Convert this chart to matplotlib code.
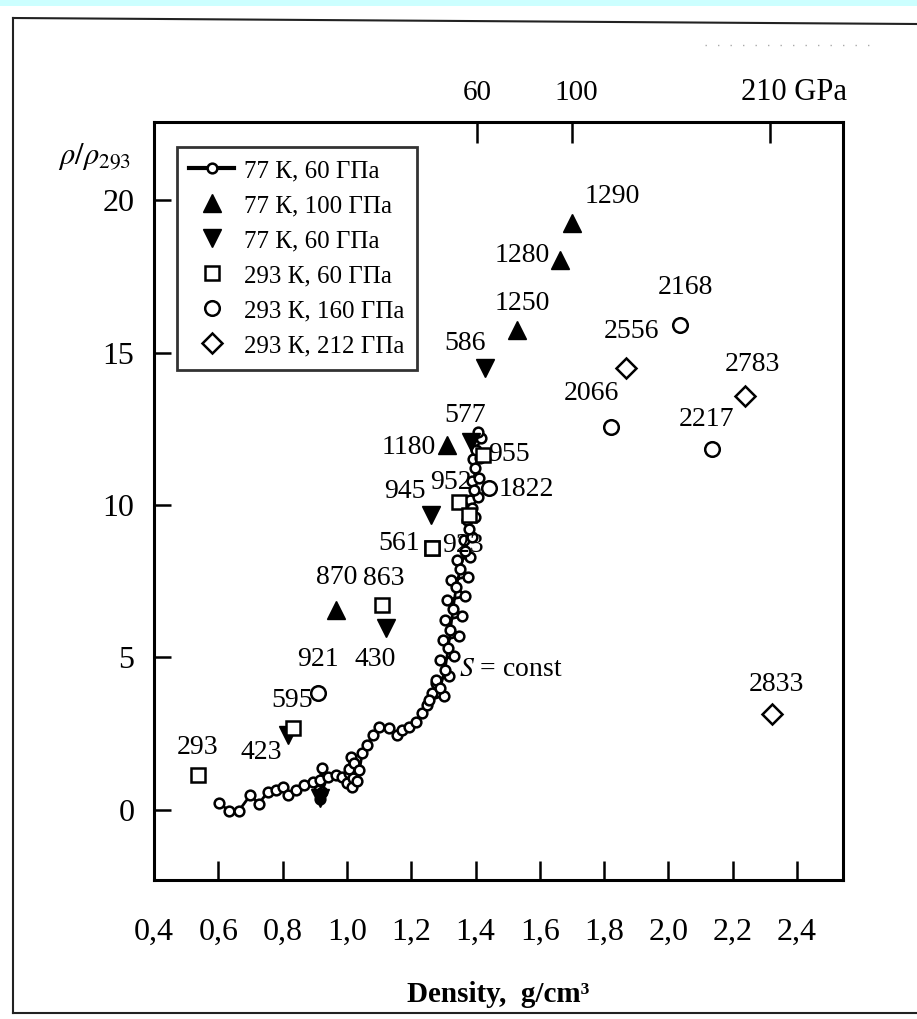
import numpy as np
import matplotlib.pyplot as plt
from matplotlib.lines import Line2D
from matplotlib.patches import Rectangle

plt.rcParams['font.family'] = ['Liberation Serif', 'DejaVu Serif']
plt.rcParams['mathtext.fontset'] = 'stix'

# isentrope run, 77 K start, 60 GPa (up the band, then back down its middle)
curve_x = [0.602, 0.633, 0.664, 0.700, 0.726, 0.754, 0.780, 0.800, 0.816, 0.843,
           0.868, 0.893, 0.912, 0.917, 0.915, 0.924, 0.922, 0.940, 0.967, 0.986,
           1.000, 1.008, 1.017, 1.020, 1.014, 1.005, 1.023, 1.030, 1.039, 1.048,
           1.064, 1.080, 1.100, 1.132, 1.157, 1.172, 1.194, 1.215, 1.234, 1.250,
           1.265, 1.278,
           1.256, 1.302, 1.278, 1.318, 1.290, 1.333, 1.299, 1.349, 1.305, 1.358,
           1.312, 1.367, 1.324, 1.377, 1.343, 1.383, 1.364, 1.389, 1.374, 1.398,
           1.383, 1.408, 1.389, 1.411, 1.392, 1.414, 1.395, 1.417, 1.408,
           1.402, 1.398, 1.395, 1.390, 1.380, 1.368, 1.352, 1.340, 1.330, 1.322,
           1.315, 1.305, 1.290]
curve_y = [0.23, -0.03, -0.03, 0.49, 0.20, 0.59, 0.66, 0.75, 0.49, 0.66,
           0.82, 0.92, 0.66, 0.35, 0.98, 1.38, 0.60, 1.08, 1.15, 1.08,
           0.89, 1.20, 0.75, 1.05, 1.74, 1.35, 1.54, 0.95, 1.31, 1.87,
           2.13, 2.46, 2.72, 2.69, 2.46, 2.62, 2.72, 2.89, 3.18, 3.44,
           3.84, 4.16,
           3.60, 3.75, 4.26, 4.40, 4.90, 5.05, 5.57, 5.70, 6.23, 6.35,
           6.89, 7.00, 7.54, 7.65, 8.20, 8.30, 8.85, 8.95, 9.50, 9.60,
           10.16, 10.25, 10.80, 10.90, 11.50, 11.55, 12.10, 12.20, 12.40,
           11.80, 11.20, 10.50, 9.90, 9.20, 8.50, 7.90, 7.30, 6.60, 5.90,
           5.30, 4.60, 4.00]

# 77 K, 100 GPa
up_x = [0.967, 1.312, 1.529, 1.662, 1.699]
up_y = [6.56, 11.97, 15.74, 18.03, 19.25]
up_lab = ['870', '1180', '1250', '1280', '1290']

# 77 K, 60 GPa
down_x = [0.816, 1.122, 1.262, 1.386, 1.429, 0.915]
down_y = [2.46, 5.97, 9.67, 12.07, 14.49, 0.40]
down_lab = ['423', '430', '945', '577', '586', '']

# 293 K, 60 GPa
sq_x = [0.536, 0.831, 1.110, 1.265, 1.265, 1.349, 1.423, 1.380]
sq_y = [1.15, 2.69, 6.72, 8.59, 8.59, 10.10, 11.64, 9.67]
sq_lab = ['293', '595', '863', '561', '923', '952', '955', '']

# 293 K, 160 GPa
circ_x = [0.909, 1.442, 1.820, 2.037, 2.136]
circ_y = [3.84, 10.56, 12.56, 15.90, 11.84]
circ_lab = ['921', '1822', '2066', '2168', '2217']

# 293 K, 212 GPa
dia_x = [1.867, 2.239, 2.322]
dia_y = [14.49, 13.57, 3.15]
dia_lab = ['2556', '2783', '2833']

# pressure marks on the upper axis
top_x = [1.405, 1.699, 2.316]
top_lab = ['60', '100', '210 GPa']

xticks = [0.4, 0.6, 0.8, 1.0, 1.2, 1.4, 1.6, 1.8, 2.0, 2.2, 2.4]
yticks = [0, 5, 10, 15, 20]

# where each number sits relative to its point (points, ha)
offs = {'870': (0, 23, 'center'), '1180': (-8, -2, 'right'), '1250': (4, 19, 'center'),
        '1280': (-7, 3, 'right'), '1290': (9, 19, 'left'),
        '423': (-4, -13, 'right'), '430': (-8, -23, 'center'), '945': (-19, 17, 'center'),
        '577': (-4, 19, 'center'), '586': (-14, 18, 'center'),
        '293': (0, 20, 'center'), '595': (0, 20, 'center'), '863': (1, 19, 'center'),
        '561': (-9, 3, 'right'), '923': (7, 2, 'left'), '952': (-6, 14, 'center'),
        '955': (4, 0, 'left'),
        '921': (0, 24, 'center'), '1822': (7, -1, 'left'), '2066': (-14, 24, 'center'),
        '2168': (4, 27, 'center'), '2217': (-4, 21, 'center'),
        '2556': (4, 26, 'center'), '2783': (5, 23, 'center'), '2833': (3, 21, 'center')}

fig = plt.figure(figsize=(9.17, 10.19), dpi=100)
fig.patch.set_facecolor('white')

# scan border
fig.add_artist(Rectangle((0, 1 - 6 / 1019), 1, 6 / 1019, transform=fig.transFigure,
                         color='#ccffff', lw=0))
fig.add_artist(Line2D([13 / 917, 1], [1 - 18 / 1019, 1 - 24 / 1019], transform=fig.transFigure,
                      color='#222222', lw=1.5))
fig.add_artist(Line2D([13 / 917, 13 / 917], [1 - 18 / 1019, 1 - 1013 / 1019],
                      transform=fig.transFigure, color='#222222', lw=1.5))
fig.add_artist(Line2D([13 / 917, 1], [1 - 1013 / 1019, 1 - 1013 / 1019],
                      transform=fig.transFigure, color='#222222', lw=1.5))
fig.add_artist(Line2D([705 / 917, 880 / 917], [1 - 45 / 1019, 1 - 45 / 1019],
                      transform=fig.transFigure, color='#aaaaaa', lw=1, ls=(0, (1, 8))))

ax = fig.add_axes([154 / 917, 1 - 880 / 1019, 689 / 917, 758 / 1019])

ax.plot(curve_x, curve_y, '-o', color='black', lw=2.0, ms=7, mfc='white', mec='black',
        mew=1.8, label='77 К, 60 ГПа', zorder=3)
ax.plot(up_x, up_y, '^', color='black', ms=13, ls='none', label='77 К, 100 ГПа', zorder=4)
ax.plot(down_x, down_y, 'v', color='black', ms=13, ls='none', label='77 К, 60 ГПа', zorder=4)
ax.plot(sq_x, sq_y, 's', ms=10, mfc='white', mec='black', mew=1.8, ls='none',
        label='293 К, 60 ГПа', zorder=4)
ax.plot(circ_x, circ_y, 'o', ms=10.5, mfc='white', mec='black', mew=1.8, ls='none',
        label='293 К, 160 ГПа', zorder=4)
ax.plot(dia_x, dia_y, 'D', ms=10, mfc='white', mec='black', mew=1.8, ls='none',
        label='293 К, 212 ГПа', zorder=4)

for xs, ys, labs in [(up_x, up_y, up_lab), (down_x, down_y, down_lab), (sq_x, sq_y, sq_lab),
                     (circ_x, circ_y, circ_lab), (dia_x, dia_y, dia_lab)]:
    for x, y, t in zip(xs, ys, labs):
        if not t:
            continue
        dx, dy, ha = offs[t]
        ax.annotate(t, xy=(x, y), xytext=(dx, dy), textcoords='offset points',
                    ha=ha, va='center', fontsize=20, zorder=5)

ax.text(1.35, 4.6, '$S$ = const', fontsize=20, ha='left', va='center')

ax.set_xlim(0.4, 2.543)
ax.set_ylim(-2.3, 22.56)
ax.set_xticks(xticks)
ax.set_xticklabels([('%.1f' % v).replace('.', ',') for v in xticks])
ax.set_yticks(yticks)
ax.tick_params(axis='x', direction='in', length=14, width=1.8, labelsize=23, pad=27)
ax.tick_params(axis='y', direction='in', length=12, width=1.8, labelsize=23, pad=14)
for s in ax.spines.values():
    s.set_linewidth(2.2)

# pressure scale along the top
top = ax.secondary_xaxis('top')
top.set_xticks(top_x)
top.set_xticklabels([''] * len(top_x))
top.tick_params(direction='in', length=15, width=1.8)
top_dx = [0, 3, 17]
for x, t, d in zip(top_x, top_lab, top_dx):
    ax.annotate(t, xy=(x, 1), xycoords=('data', 'axes fraction'), xytext=(d, 21),
                textcoords='offset points', ha='center', va='center',
                fontsize=22 if 'GPa' in t else 21)

ax.set_xlabel('Density,  g/cm³', fontsize=21, fontweight='bold', labelpad=25)
ax.text(-0.086, 0.955, r'$\rho/\rho_{293}$', transform=ax.transAxes, fontsize=22,
        ha='center', va='center')

leg = ax.legend(loc='upper left', bbox_to_anchor=(0.033, 0.967), borderaxespad=0,
                fontsize=18, frameon=True, fancybox=False, edgecolor='black',
                handlelength=1.8, handletextpad=0.4, labelspacing=0.5, borderpad=0.5)
leg.get_frame().set_linewidth(2)
leg.get_lines()[0].set_linewidth(3)

fig.savefig('out.png', dpi=100, facecolor='white')
